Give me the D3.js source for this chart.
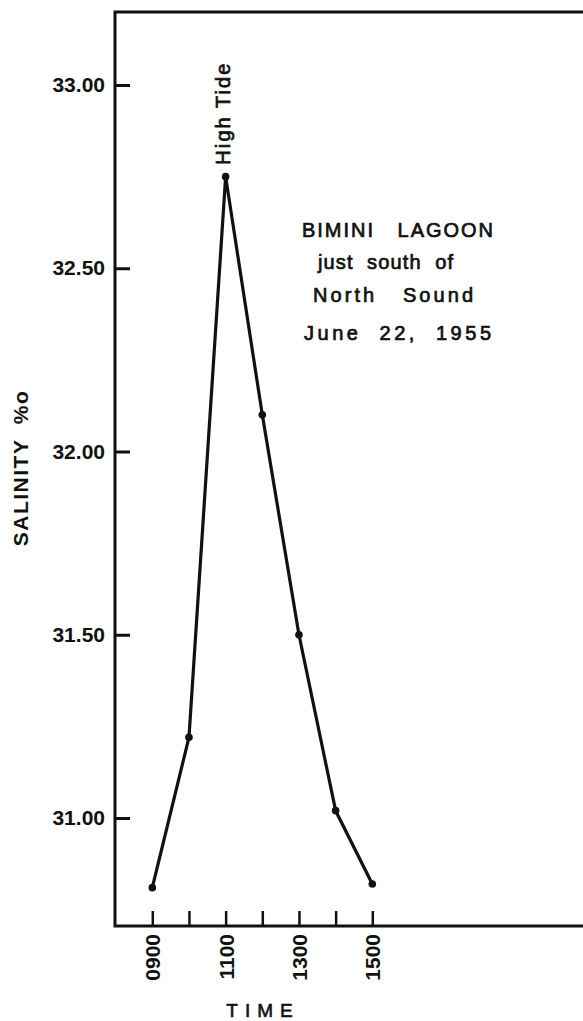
<!DOCTYPE html>
<html>
<head>
<meta charset="utf-8">
<script src="https://cdn.jsdelivr.net/npm/d3@7"></script>
<style>
  body { margin: 0; background: #fff; }
  text { font-family: "Liberation Sans", Arial, sans-serif; fill: #111; white-space: pre; }
</style>
</head>
<body>
<div id="chart"></div>
<script>
// readings: hour of day and salinity (parts per thousand)
const hours = [9, 10, 11, 12, 13, 14, 15]
const salinity = [30.81, 31.22, 32.75, 32.10, 31.50, 31.02, 30.82]
const xTickLabels = ['0900', '', '1100', '', '1300', '', '1500']
const yTicks = [31.0, 31.5, 32.0, 32.5, 33.0]
const noteLines = ['BIMINI   LAGOON', 'just  south  of', 'North   Sound', 'June  22,  1955']

let width = 583
let height = 1021
let frameLeft = 115
let frameTop = 12
let frameBottom = 926
let ink = '#111'

const svg = d3.select('#chart')
    .append('svg')
    .attr('width', width)
    .attr('height', height)

const xScale = d3.scaleLinear()
    .domain([9, 15])
    .range([152.3, 372.3])

const yScale = d3.scaleLinear()
    .domain([31, 33])
    .range([818, 85])

// frame: top, left, bottom (open on the right)
svg.append('path')
    .attr('d', `M${width},${frameTop}H${frameLeft}V${frameBottom}H${width}`)
    .attr('fill', 'none')
    .attr('stroke', ink)
    .attr('stroke-width', 3)

// y axis, ticks pointing inward
const yAxis = d3.axisLeft(yScale)
    .tickValues(yTicks)
    .tickSize(-15)
    .tickPadding(10)
    .tickFormat(d3.format('.2f'))
const gy = svg.append('g')
    .attr('transform', `translate(${frameLeft},0)`)
    .call(yAxis)
gy.select('.domain').remove()
gy.selectAll('line').attr('stroke', ink).attr('stroke-width', 3)
gy.selectAll('text')
    .attr('font-family', '"Liberation Sans", Arial, sans-serif')
    .attr('font-size', 21)
    .attr('font-weight', 'bold')
    .attr('fill', ink)

// x axis, ticks pointing inward, rotated labels
const xAxis = d3.axisBottom(xScale)
    .tickValues(hours)
    .tickSize(-15)
    .tickFormat((d, i) => xTickLabels[i])
const gx = svg.append('g')
    .attr('transform', `translate(0,${frameBottom})`)
    .call(xAxis)
gx.select('.domain').remove()
gx.selectAll('line').attr('stroke', ink).attr('stroke-width', 2.5)
gx.selectAll('text')
    .attr('font-family', '"Liberation Sans", Arial, sans-serif')
    .attr('font-size', 21)
    .attr('font-weight', 'bold')
    .attr('fill', ink)
    .attr('transform', 'rotate(-90)')
    .attr('text-anchor', 'end')
    .attr('x', -8)
    .attr('y', 0)
    .attr('dy', '0.36em')

// axis titles
svg.append('text')
    .attr('transform', `translate(28,468) rotate(-90)`)
    .attr('text-anchor', 'middle')
    .attr('font-size', 21)
    .attr('font-weight', 'bold')
    .attr('letter-spacing', 1.5)
    .text('SALINITY  %o')

svg.append('text')
    .attr('x', 263)
    .attr('y', 1017)
    .attr('text-anchor', 'middle')
    .attr('font-size', 19)
    .attr('stroke', ink)
    .attr('stroke-width', 0.6)
    .attr('letter-spacing', 7)
    .text('TIME')

// the data line
const line = d3.line()
    .x((d, i) => xScale(hours[i]))
    .y(d => yScale(d))

svg.append('path')
    .datum(salinity)
    .attr('d', line)
    .attr('fill', 'none')
    .attr('stroke', ink)
    .attr('stroke-width', 3.2)
    .attr('stroke-linejoin', 'round')

svg.selectAll('circle')
    .data(salinity)
    .enter()
    .append('circle')
    .attr('cx', (d, i) => xScale(hours[i]))
    .attr('cy', d => yScale(d))
    .attr('r', 3.8)
    .attr('fill', ink)

// peak annotation
const peak = d3.maxIndex(salinity)
svg.append('text')
    .attr('transform', `translate(${xScale(hours[peak]) + 4},${yScale(salinity[peak]) - 12}) rotate(-90)`)
    .attr('font-size', 20)
    .attr('stroke', ink)
    .attr('stroke-width', 0.7)
    .attr('textLength', 101)
    .attr('lengthAdjust', 'spacing')
    .text('High Tide')

// location note
const noteX = [302, 318, 313, 304]
const noteY = [237, 269, 302, 340]
const noteW = [191, 135, 160, 187]
svg.selectAll('.note')
    .data(noteLines)
    .enter()
    .append('text')
    .attr('class', 'note')
    .attr('x', (d, i) => noteX[i])
    .attr('y', (d, i) => noteY[i])
    .attr('font-size', 20)
    .attr('stroke', ink)
    .attr('stroke-width', 0.7)
    .attr('textLength', (d, i) => noteW[i])
    .attr('lengthAdjust', 'spacing')
    .text(d => d)
</script>
</body>
</html>
